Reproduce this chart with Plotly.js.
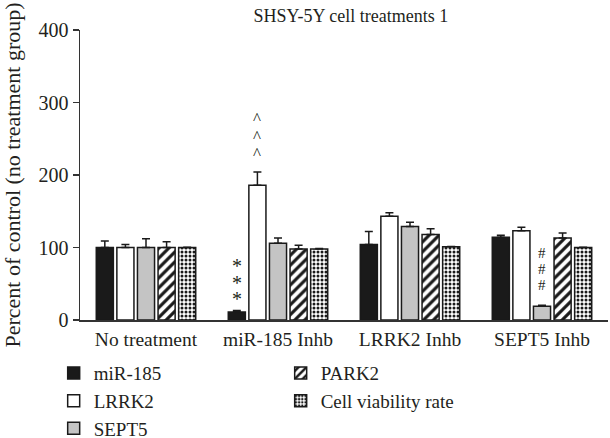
<!DOCTYPE html>
<html>
<head>
<meta charset="utf-8">
<script src="https://cdn.plot.ly/plotly-3.0.1.min.js"></script>
<style>html,body{margin:0;padding:0;background:#fff;}#chart{width:610px;height:438px;}</style>
</head>
<body>
<div id="chart"></div>
<script>
var categories = ['No treatment', 'miR-185 Inhb', 'LRRK2 Inhb', 'SEPT5 Inhb'];
var seriesNames = ['miR-185', 'LRRK2', 'SEPT5', 'PARK2', 'Cell viability rate'];

var mir185 = [100, 11, 104, 114];
var mir185Err = [9, 2, 18, 3];
var lrrk2 = [100, 186, 143, 123];
var lrrk2Err = [4, 18, 5, 5];
var sept5 = [100, 106, 129, 19];
var sept5Err = [12, 7, 6, 1.5];
var park2 = [100, 98, 118, 113];
var park2Err = [8, 5, 8, 7];
var viability = [100, 98, 101, 100];
var viabilityErr = [0.5, 0.5, 0.5, 0.5];

var yTicks = [0, 100, 200, 300, 400];

// significance marks: series index, category index, symbol (stacked 3 times)
var markSeries = [0, 1, 2];
var markCategory = [1, 1, 3];
var markSymbol = ['*', '^', '#'];

var FONT = 'Liberation Serif';
var TXT = '#231f20';
var bargap = 0.22;

// styling for the stacked marks (pixels): shift of the middle glyph above the error cap, line step, glyph size
var markStyle = [
  {shift: 28, step: 16.5, size: 20},
  {shift: 36, step: 17.5, size: 17},
  {shift: 36, step: 16, size: 15}
];

var values = [mir185, lrrk2, sept5, park2, viability];
var errs = [mir185Err, lrrk2Err, sept5Err, park2Err, viabilityErr];
var ranks = [1, 3, 5, 2, 4];
var markers = [
  {color: '#1a1a1a', line: {color: '#1a1a1a', width: 1.5}},
  {color: '#ffffff', line: {color: '#1a1a1a', width: 1.5}},
  {color: '#c4c4c4', line: {color: '#1a1a1a', width: 1.5}},
  {color: '#ffffff', line: {color: '#1a1a1a', width: 1.5},
   pattern: {shape: '/', fgcolor: '#1a1a1a', bgcolor: '#ffffff', size: 7, solidity: 0.45}},
  {color: '#ffffff', line: {color: '#1a1a1a', width: 1.5},
   pattern: {shape: '.', fgcolor: '#1a1a1a', bgcolor: '#ffffff', size: 4, solidity: 0.45}}
];

var traces = seriesNames.map(function (name, i) {
  return {
    type: 'bar',
    name: name,
    x: categories,
    y: values[i],
    marker: markers[i],
    legendrank: ranks[i],
    error_y: {
      type: 'data', symmetric: false, array: errs[i],
      arrayminus: errs[i].map(function () { return 0; }),
      color: '#1a1a1a', thickness: 1.5, width: 4
    }
  };
});

var slot = (1 - bargap) / seriesNames.length;
var annotations = markSeries.map(function (s, j) {
  var c = markCategory[j];
  var st = markStyle[j];
  var g = '<span style="font-size:' + st.size + 'px">' + markSymbol[j] + '</span>';
  return {
    xref: 'x', yref: 'y',
    x: c + (s - (seriesNames.length - 1) / 2) * slot,
    y: values[s][c] + errs[s][c],
    yanchor: 'middle', yshift: st.shift,
    text: [g, g, g].join('<br>'), showarrow: false,
    font: {family: FONT, size: st.step / 1.3, color: TXT}
  };
});

var layout = {
  width: 610, height: 438,
  margin: {l: 80, r: 2, t: 30, b: 118},
  paper_bgcolor: '#ffffff', plot_bgcolor: '#ffffff',
  font: {family: FONT, size: 19, color: TXT},
  title: {text: 'SHSY-5Y cell treatments 1', font: {family: FONT, size: 18, color: TXT},
          xref: 'paper', x: 0.513, xanchor: 'center', y: 0.965, yanchor: 'middle'},
  barmode: 'group', bargap: bargap, bargroupgap: 0.17,
  showlegend: true,
  legend: {orientation: 'h', xref: 'container', x: 0.088, xanchor: 'left',
           yref: 'container', y: 0.1915, yanchor: 'top',
           entrywidth: 182, entrywidthmode: 'pixels',
           font: {family: FONT, size: 19, color: TXT}, bgcolor: 'rgba(0,0,0,0)'},
  xaxis: {type: 'category', categoryorder: 'array', categoryarray: categories, automargin: false,
          range: [-0.5, 3.5], showline: true, linecolor: '#333333', linewidth: 1.5,
          ticks: '', showgrid: false, zeroline: false, ticklabelstandoff: 1,
          tickfont: {family: FONT, size: 19.5, color: TXT}},
  yaxis: {range: [0, 400], tickvals: yTicks, ticktext: yTicks.map(String), automargin: false,
          showline: true, linecolor: '#333333', linewidth: 1.5,
          ticks: 'outside', ticklen: 6, tickwidth: 1.5, tickcolor: '#333333',
          showgrid: false, zeroline: false,
          tickfont: {family: FONT, size: 20, color: TXT},
          title: {text: 'Percent of control (no treatment group)', standoff: 12,
                  font: {family: FONT, size: 22, color: TXT}}},
  annotations: annotations
};

Plotly.newPlot('chart', traces, layout, {displayModeBar: false, staticPlot: true});
</script>
</body>
</html>
